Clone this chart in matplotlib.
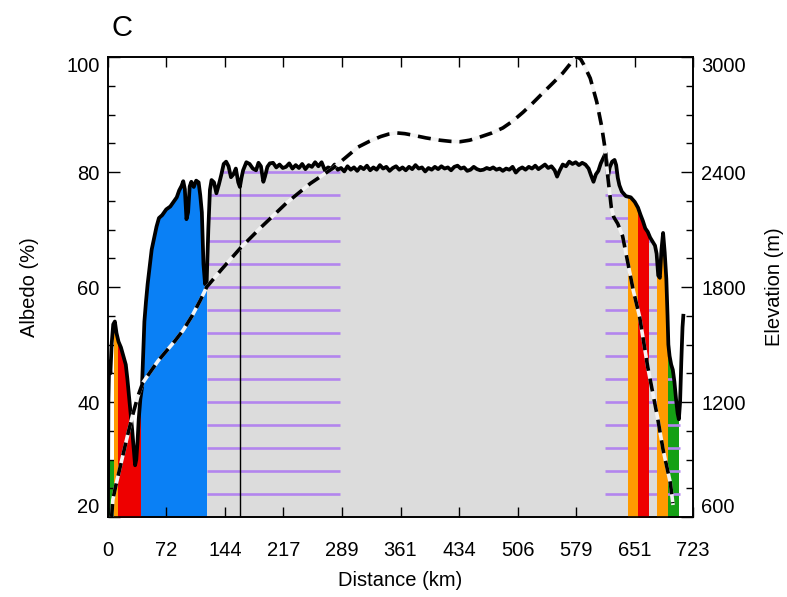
import numpy as np
import matplotlib
matplotlib.use("Agg")
import matplotlib.pyplot as plt
from matplotlib.patches import Rectangle
from matplotlib.ticker import MultipleLocator

plt.rcParams['font.family'] = ['Liberation Sans', 'DejaVu Sans']

# =============================
# Data
# =============================

# albedo profile along the transect
dist = [0, 0.5, 1.5, 3, 4.5, 6.5, 8.5, 10.5, 13, 16, 19, 22, 24, 26, 28, 30, 32, 33.5, 35, 36.5,
        38, 40, 42, 43.5, 45, 47, 49, 51.5, 54, 57, 60, 63, 67, 72, 77, 81, 85, 88, 91, 93,
        95, 97, 99, 101, 103, 106, 109, 112, 114, 116, 118, 120, 122, 124, 126, 128, 131, 134, 137, 140,
        143, 146, 149, 152, 155, 158, 161, 163, 165, 167, 171, 175, 179, 183, 186, 189, 192, 194, 197, 200,
        204, 208, 212, 216, 220, 224, 228, 232, 236, 240, 244, 248, 252, 256, 260, 264, 268, 272, 276, 280,
        284, 288, 292, 296, 300, 304, 308, 312, 316, 320, 324, 328, 332, 336, 340, 344, 348, 352, 356, 360,
        364, 368, 372, 376, 380, 384, 388, 392, 396, 400, 404, 408, 412, 416, 420, 424, 428, 432, 436, 440,
        444, 448, 452, 456, 460, 464, 468, 472, 476, 480, 484, 488, 492, 496, 500, 504, 508, 512, 516, 520,
        524, 528, 532, 536, 540, 544, 548, 552, 555, 558, 562, 566, 570, 574, 578, 582, 586, 590, 594, 597,
        600, 603, 606, 609, 612, 615, 617, 618, 620, 623, 626, 628, 630, 632, 635, 640, 646, 651, 655, 658,
        661, 664, 667, 670, 673, 676, 678, 680, 682, 684, 686, 688, 690, 691.5, 692.5, 694, 696, 698, 700, 702,
        704, 705.5, 707, 708.5, 710, 711]
albedo = [20, 40, 47, 45, 50, 53.5, 54, 52, 50.5, 49.5, 48, 46.5, 44, 41, 38, 35, 31.5, 29, 30, 33,
          37, 40.5, 42.5, 48, 54, 57.5, 60.5, 63.5, 66.5, 68.5, 70.5, 72, 72.5, 73.5, 74, 74.8, 75.6, 76.8, 77.6, 78.4,
          77, 71.8, 73, 77.5, 78.3, 77.4, 78.5, 78.2, 76, 73, 64, 60.5, 61, 70, 76.9, 78.6, 78.2, 76.3, 77.8, 79.5,
          81.4, 81.8, 81, 79.1, 79.6, 80.6, 78.2, 77.4, 79, 80.3, 81.7, 81.4, 80.6, 80.3, 81.6, 81, 78.3, 79.2, 80.9, 81.5,
          81.6, 80.8, 81.3, 80.7, 80.9, 81.5, 80.6, 81.2, 80.7, 81.4, 80.5, 81.2, 80.9, 81.7, 81.0, 81.7, 80.3, 80.8, 80.6, 81.3,
          80.4, 80.7, 80.1, 81.0, 80.4, 80.8, 80.2, 80.9, 80.5, 81.1, 80.3, 80.8, 80.4, 81.2, 80.6, 80.9, 80.2, 80.7, 81.0, 80.4,
          80.8, 80.3, 80.9, 80.5, 81.2, 80.6, 80.8, 80.1, 80.7, 80.4, 80.9, 80.5, 81.0, 80.6, 80.8, 80.3, 80.9, 81.1, 80.6, 80.8,
          80.2, 80.4, 80.9, 80.5, 80.3, 80.4, 80.7, 80.5, 80.8, 80.4, 80.6, 80.2, 80.6, 80.4, 80.9, 79.9, 80.5, 80.8, 80.4, 80.9,
          80.6, 81.1, 80.5, 80.9, 81.3, 80.7, 81.0, 80.3, 79.2, 80.2, 81.3, 81.0, 81.8, 81.4, 81.7, 81.2, 81.6, 81.3, 80.6, 79.4,
          78.3, 79.6, 80.2, 81.5, 82.4, 83.3, 80.5, 79.2, 80.8, 81.8, 82.1, 81.2, 79.0, 77.7, 76.6, 75.8, 75.6, 74.8, 73.8, 72.6,
          71.5, 70.2, 69.6, 68.6, 67.9, 67.2, 65.8, 62.0, 61.6, 66.5, 69.4, 66.0, 61.4, 55.0, 50.0, 48.0, 46.5, 45.6, 43.5, 40.5,
          38.0, 37.0, 40.0, 47.0, 53.0, 55.0]

# surface elevation along the transect (m)
elev_dist = [4.5, 6, 10, 15, 20, 25, 31, 37, 43, 52, 62, 73, 83, 93, 104, 114, 122, 140, 164, 190,
             221, 250, 278, 295, 309, 323, 337, 347, 357, 367, 377, 393, 410, 423, 435, 447, 460, 474, 488, 500,
             513, 525, 537, 550, 562, 570, 576, 580, 584, 588, 596, 604, 610, 614, 617, 620, 622, 625, 630, 636,
             649, 657, 667, 679, 686, 695, 698]
elevation = [600, 690, 770, 860, 950, 1040, 1140, 1230, 1300, 1355, 1415, 1470, 1520, 1575, 1650, 1730, 1800, 1890, 2005, 2115,
             2240, 2340, 2420, 2480, 2530, 2560, 2585, 2598, 2604, 2600, 2592, 2578, 2566, 2560, 2558, 2566, 2583, 2603, 2630, 2665,
             2712, 2760, 2811, 2865, 2916, 2958, 2990, 3000, 2990, 2960, 2889, 2766, 2640, 2530, 2400, 2290, 2215, 2165, 2130, 2065,
             1785, 1644, 1383, 1122, 951, 777, 672]

# surface class segments (start km, end km, colour)
seg_start = [7, 12, 39, 122, 643, 655, 667, 679, 691]
seg_end = [12, 39, 122, 643, 655, 667, 679, 691, 704]
seg_color = ["#ff9a00", "#ee0000", "#0a80f5", "#dcdcdc", "#ff9a00", "#ee0000", "#dcdcdc", "#ff9a00", "#15a015"]
seg_layer = [3, 3, 1, 1, 3, 3, 1, 3, 1]

# lilac hatch lines
hatch_levels = [24, 28, 32, 36, 40, 44, 48, 52, 56, 60, 64, 68, 72, 76, 80]
hatch_left = (122, 287)
hatch_right = (614, 707)

xtick_pos = [0, 72.3, 144.6, 216.9, 289.2, 361.5, 433.8, 506.1, 578.4, 650.7, 723]
xtick_lab = ["0", "72", "144", "217", "289", "361", "434", "506", "579", "651", "723"]

# =============================
# Figure
# =============================

fig = plt.figure(figsize=(7.87, 5.97), dpi=100)
ax = fig.add_axes([0.1372, 0.134, 0.7434, 0.7705])
ax2 = ax.twinx()

dist = np.array(dist)
albedo = np.array(albedo)

# area under the albedo curve (used for clipping)
under = ax.fill_between(dist, 20, albedo, facecolor="none", edgecolor="none")
under_path = under.get_paths()[0]

# green strip at the start, capped low
g = ax.fill_between(dist, 20, np.minimum(albedo, 30), color="#15a015", lw=0, zorder=1)
g.set_clip_path(Rectangle((0, 0), 7, 200, transform=ax.transData))

for a, b, c, z in zip(seg_start, seg_end, seg_color, seg_layer):
    f = ax.fill_between(dist, 20, albedo, color=c, lw=0, zorder=z)
    f.set_clip_path(Rectangle((a, 0), b - a, 200, transform=ax.transData))

for x0, x1 in [hatch_left, hatch_right]:
    lc = ax.hlines(hatch_levels, x0, x1, color="#b385ee", lw=1.9, zorder=2)
    lc.set_clip_path(under_path, ax.transData)

vl = ax.vlines(163, 20, 100, color="k", lw=1.0, zorder=2)
vl.set_clip_path(under_path, ax.transData)

ax.plot(dist, albedo, color="k", lw=2.7, zorder=5, solid_joinstyle="round")

ax.set_xlim(0, 723)
ax.set_ylim(20, 100)
ax.set_xticks(xtick_pos)
ax.set_xticklabels(xtick_lab)
ax.set_yticks([20, 40, 60, 80, 100])
ax.yaxis.set_minor_locator(MultipleLocator(5))
ax.tick_params(axis="x", direction="in", length=7, width=1, top=True, pad=17, labelsize=14.5)
ax.tick_params(axis="y", which="major", direction="in", length=8.5, width=1, pad=6, labelsize=14.5)
ax.tick_params(axis="y", which="minor", direction="in", length=5, width=1)
ax.set_xlabel("Distance (km)", fontsize=14.5)
ax.set_ylabel("Albedo (%)", fontsize=14.5)
ax.xaxis.set_label_coords(0.5, -0.118)
ax.yaxis.set_label_coords(-0.118, 0.5)

# elevation: dashed black over a pale line
ax2.plot(elev_dist, elevation, color="#f4f4f4", lw=2.6, zorder=3)
ax2.plot(elev_dist, elevation, color="k", lw=2.6, dashes=(3.6, 2.2), zorder=4)
ax2.set_ylim(600, 3000)
ax2.set_yticks([600, 1200, 1800, 2400, 3000])
ax2.yaxis.set_minor_locator(MultipleLocator(150))
ax2.tick_params(axis="y", which="major", direction="in", length=8.5, width=1, pad=6, labelsize=14.5)
ax2.tick_params(axis="y", which="minor", direction="in", length=5, width=1)
ax2.set_ylabel("Elevation (m)", fontsize=14.5)
ax2.yaxis.set_label_coords(1.123, 0.5)

for a in (ax, ax2):
    for s in a.spines.values():
        s.set_linewidth(1.2)

# keep end labels inside the frame
for a in (ax, ax2):
    ticks = a.yaxis.get_major_ticks()
    ticks[0].label1.set_va("bottom")
    ticks[0].label2.set_va("bottom")
    ticks[-1].label1.set_va("top")
    ticks[-1].label2.set_va("top")

fig.text(122 / 787, 1 - 28 / 597, "C", fontsize=21, ha="center", va="center")

fig.savefig("out.png", dpi=100)
